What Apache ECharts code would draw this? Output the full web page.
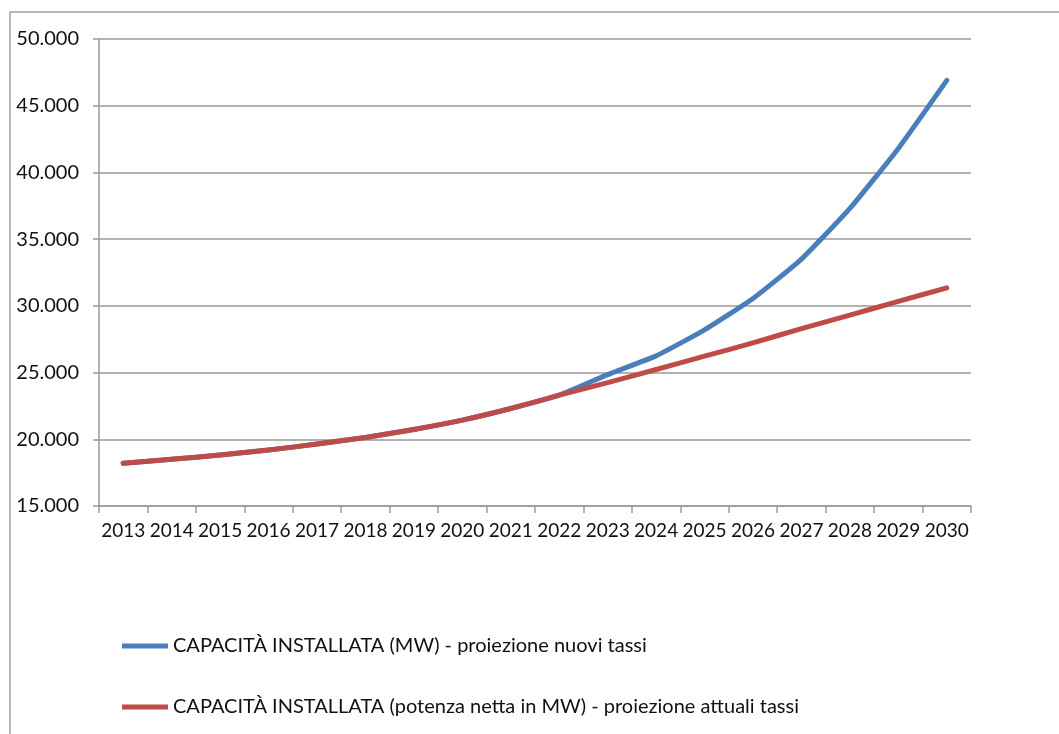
<!DOCTYPE html>
<html>
<head>
<meta charset="utf-8">
<title>Capacità installata</title>
<script src="https://cdn.jsdelivr.net/npm/echarts@6/dist/echarts.min.js"></script>
<style>
  html, body { margin: 0; padding: 0; background: #ffffff; }
  #chart { width: 1059px; height: 734px; }
</style>
</head>
<body>
<div id="chart"></div>
<script>
// Years on the category axis
const years = ['2013', '2014', '2015', '2016', '2017', '2018', '2019', '2020', '2021',
               '2022', '2023', '2024', '2025', '2026', '2027', '2028', '2029', '2030'];

// Installed capacity (MW) - projection with new rates
const capacityNewRates = [18200, 18500, 18820, 19190, 19640, 20140, 20740, 21440, 22310,
                          23310, 24850, 26250, 28200, 30550, 33500, 37300, 41800, 46900];

// Installed capacity (net power, MW) - projection with current rates
const capacityCurrentRates = [18200, 18500, 18820, 19190, 19640, 20140, 20740, 21440, 22310,
                              23310, 24250, 25230, 26230, 27220, 28300, 29300, 30340, 31350];

const seriesNames = [
  'CAPACITÀ INSTALLATA (MW) - proiezione nuovi tassi',
  'CAPACITÀ INSTALLATA (potenza netta in MW) - proiezione attuali tassi'
];

const FONT = 'Lato, "Open Sans", sans-serif';
const GRID_GREY = '#9a9a9a';

function formatThousands(v) {
  return String(v).replace(/\B(?=(\d{3})+(?!\d))/g, '.');
}

const chart = echarts.init(document.getElementById('chart'), null, { renderer: 'canvas' });

chart.setOption({
  animation: false,
  backgroundColor: '#ffffff',
  textStyle: { fontFamily: FONT },
  graphic: [{
    type: 'rect',
    shape: { x: 10, y: 12, width: 1200, height: 900 },
    style: { fill: 'none', stroke: '#a0a0a0', lineWidth: 1.5 },
    silent: true,
    z: -1
  }],
  grid: { left: 99, right: 88, top: 39, bottom: 228, containLabel: false },
  legend: {
    orient: 'vertical',
    left: 122,
    top: 636,
    padding: 0,
    icon: 'rect',
    itemWidth: 46,
    itemHeight: 5,
    itemGap: 41,
    textStyle: { fontFamily: FONT, fontSize: 20, color: '#111', lineHeight: 20 },
    data: seriesNames
  },
  xAxis: {
    type: 'category',
    data: years,
    boundaryGap: true,
    axisLine: { show: true, lineStyle: { color: GRID_GREY, width: 1.5 } },
    axisTick: { show: true, length: 7, inside: false, alignWithLabel: false,
                lineStyle: { color: GRID_GREY, width: 1.5 } },
    axisLabel: { interval: 0, margin: 15, fontFamily: FONT, fontSize: 19, color: '#111' },
    splitLine: { show: false }
  },
  yAxis: {
    type: 'value',
    min: 15000,
    max: 50000,
    interval: 5000,
    axisLine: { show: true, lineStyle: { color: GRID_GREY, width: 1.5 } },
    axisTick: { show: true, length: 6, inside: false, lineStyle: { color: GRID_GREY, width: 1.5 } },
    axisLabel: { margin: 20, fontFamily: FONT, fontSize: 20, color: '#111', formatter: formatThousands },
    splitLine: { show: true, lineStyle: { color: GRID_GREY, width: 1.5 } }
  },
  series: [
    {
      name: seriesNames[0],
      type: 'line',
      data: capacityNewRates,
      smooth: 0.15,
      showSymbol: false,
      symbol: 'none',
      color: '#4a7ebb',
      lineStyle: { width: 5, color: '#4a7ebb', cap: 'round', join: 'round' }
    },
    {
      name: seriesNames[1],
      type: 'line',
      data: capacityCurrentRates,
      smooth: 0.15,
      showSymbol: false,
      symbol: 'none',
      color: '#be4b48',
      lineStyle: { width: 5, color: '#be4b48', cap: 'round', join: 'round' }
    }
  ]
});
</script>
</body>
</html>
